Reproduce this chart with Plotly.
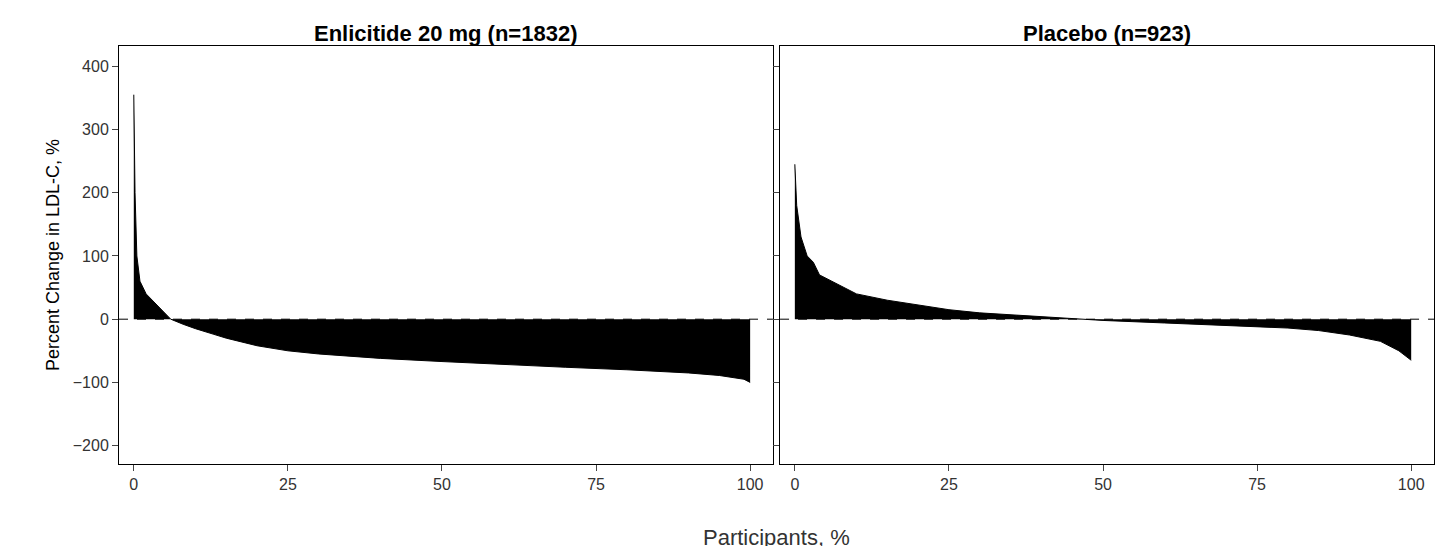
import plotly.graph_objects as go
from plotly.subplots import make_subplots

# Participant percentile vs percent change in LDL-C (sorted)
enl_pct = [0, 0.1, 0.2, 0.5, 1, 2, 3, 4, 5, 6, 8, 10, 13, 15, 20, 25, 30, 40, 50, 60, 70, 80, 90, 95, 99, 100]
enl_chg = [355, 280, 200, 100, 60, 40, 30, 20, 10, 0, -8, -15, -24, -30, -42, -50, -55, -62, -67, -72, -76, -80, -85, -89, -95, -100]

plc_pct = [0, 0.3, 1, 2, 3, 4, 6, 8, 10, 15, 20, 25, 30, 35, 40, 45, 50, 60, 70, 80, 85, 90, 95, 98, 100]
plc_chg = [245, 180, 130, 100, 90, 70, 60, 50, 40, 30, 22, 15, 10, 7, 3, 0, -2, -6, -10, -14, -18, -25, -35, -50, -65]

titles = ["Enlicitide 20 mg (n=1832)", "Placebo (n=923)"]

fig = make_subplots(rows=1, cols=2, shared_yaxes=True, horizontal_spacing=0.0054,
                    subplot_titles=titles)

for i, (x, y) in enumerate([(enl_pct, enl_chg), (plc_pct, plc_chg)], start=1):
    fig.add_trace(go.Scatter(x=x, y=y, mode="lines", fill="tozeroy",
                             fillcolor="black", line=dict(color="black", width=1),
                             showlegend=False), row=1, col=i)
    fig.add_hline(y=0, line=dict(color="black", width=1, dash="dash"), row=1, col=i)
    fig.update_xaxes(range=[-2.4, 103.7], tickvals=[0, 25, 50, 75, 100],
                     showgrid=False, zeroline=False, showline=True, mirror=True,
                     linecolor="black", ticks="outside", ticklen=6,
                     tickfont=dict(size=16, color="#333"), row=1, col=i)

fig.update_yaxes(range=[-229, 432], tickvals=[-200, -100, 0, 100, 200, 300, 400],
                 showgrid=False, zeroline=False, showline=True, mirror=True,
                 linecolor="black", ticks="outside", ticklen=6,
                 tickfont=dict(size=16, color="#333"))
fig.update_yaxes(title=dict(text="Percent Change in LDL-C, %", font=dict(size=18, color="black"),
                            standoff=8),
                 row=1, col=1)

for ann in fig.layout.annotations:
    ann.font = dict(size=22, color="black", family="Arial")
    ann.text = "<b>" + ann.text + "</b>"
    ann.yshift = -2

fig.add_annotation(text="Participants, %", x=0.5, y=-0.14, xref="paper", yref="paper",
                   showarrow=False, font=dict(size=22, color="#333"), yanchor="top")

fig.update_layout(width=1440, height=538, plot_bgcolor="white", paper_bgcolor="white",
                  font=dict(family="Arial"), margin=dict(l=111, r=14, t=38, b=82))

fig.write_html("out.html")
